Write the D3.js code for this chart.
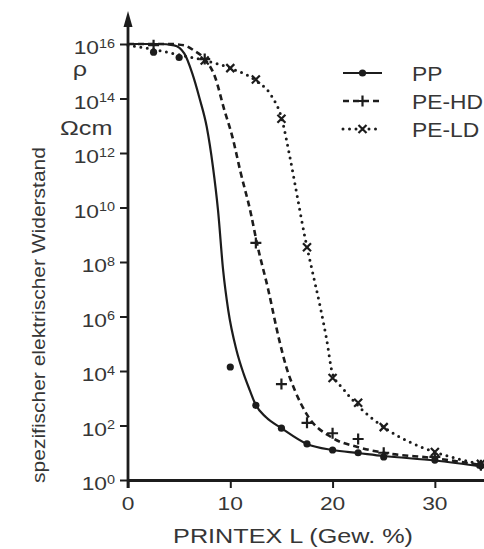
<!DOCTYPE html>
<html>
<head>
<meta charset="utf-8">
<script src="https://cdn.jsdelivr.net/npm/d3@7"></script>
<style>
  html, body { margin: 0; padding: 0; background: #fff; overflow: hidden; }
  svg { display: block; }
  text { font-family: "Liberation Sans", Arial, Helvetica, sans-serif; fill: #363636; }
</style>
</head>
<body>
<svg id="chart" width="484" height="549"></svg>
<script>
// Specific resistivity (Ohm*cm) of three polymers vs. PRINTEX L carbon black loading (wt %)
const xTicks = [0, 10, 20, 30];
const yTickExps = [0, 2, 4, 6, 8, 10, 12, 14, 16];
const seriesNames = ["PP", "PE-HD", "PE-LD"];

// measured points
const ppX   = [2.5, 5, 10, 12.5, 15, 17.5, 20, 22.5, 25, 30, 34.5];
const ppRho = [5e15, 3.2e15, 1.4e4, 5.5e2, 80, 21, 12.6, 10, 7, 5.4, 3.3];

const hdX   = [2.5, 7.5, 12.5, 15, 17.5, 20, 22.5, 25, 30, 34.5];
const hdRho = [9e15, 2.8e15, 5e8, 3.3e3, 125, 52, 32, 10, 7, 3.5];

const ldX   = [7.5, 10, 12.5, 15, 17.5, 20, 22.5, 25, 30, 34.5];
const ldRho = [2.5e15, 1.3e15, 5e14, 1.8e13, 3.5e8, 5.5e3, 6.8e2, 87, 10.7, 3.9];

// fitted curves
const ppFitX   = [0, 3, 4.5, 5.5, 6.3, 7, 7.7, 8.3, 8.8, 9.3, 9.8, 10.6, 11.3, 11.9, 12.5, 13.5, 15, 17.5, 20, 22.5, 25, 30, 35];
const ppFitRho = [1e16, 1e16, 8.9e15, 4.5e15, 8e14, 1e14, 9e12, 3.2e11, 8e9, 5e7, 1.7e6, 5.9e4, 8e3, 2e3, 5.6e2, 2e2, 80, 21, 12.6, 9.8, 7.6, 5.2, 3];

const hdFitX   = [0, 4, 5.5, 6.5, 7.5, 8.5, 9.4, 10.2, 11, 12, 12.6, 13.7, 14.8, 15.5, 16.3, 17.5, 20, 22.5, 25, 30, 35];
const hdFitRho = [1e16, 1e16, 8.9e15, 5.6e15, 2.8e15, 6.3e14, 4e13, 4e12, 2e11, 6.3e9, 5e8, 1e7, 1.3e5, 1.3e4, 2e3, 2.5e2, 35, 16, 10, 6.3, 3.3];

const ldFitX   = [0, 2.5, 5, 7.5, 10, 12.5, 14, 15, 15.8, 16.5, 17.3, 18, 18.8, 19.4, 20, 21, 22.3, 25, 27.5, 30, 35];
const ldFitRho = [8.9e15, 6.3e15, 4e15, 2.5e15, 1.3e15, 4.5e14, 1.3e14, 2e13, 8e11, 3.2e10, 8e8, 5e7, 2.2e6, 1.6e5, 8e3, 2.3e3, 6.3e2, 87, 25, 10.7, 3.5];

const svg = d3.select("#chart");
const ink = "#1c1c1c";
const sx = 1.2; // horizontally widened lettering

const x = d3.scaleLinear().domain([0, 35]).range([128, 486]);
const y = d3.scaleLog().domain([1, 1e16]).range([480, 44]);

// ---- x axis
const xAxis = d3.axisBottom(x).tickValues(xTicks).tickSize(8).tickSizeOuter(0).tickFormat("");
const gx = svg.append("g").attr("transform", "translate(0,480)").call(xAxis);
gx.select(".domain").attr("stroke", ink).attr("stroke-width", 2.8);
gx.selectAll(".tick line").attr("stroke", ink).attr("stroke-width", 2);

svg.append("g").selectAll("text").data(xTicks).join("text")
  .attr("transform", d => `translate(${x(d)},510) scale(${sx},1)`)
  .attr("text-anchor", "middle")
  .style("font-size", "19px")
  .text(d => d);

// ---- y axis
const yAxis = d3.axisLeft(y).tickValues(yTickExps.map(e => Math.pow(10, e))).tickSize(8).tickFormat("");
const gy = svg.append("g").attr("transform", "translate(128,0)").call(yAxis);
gy.select(".domain").remove();
gy.selectAll(".tick line").attr("stroke", ink).attr("stroke-width", 2);

svg.append("line")
  .attr("x1", 128).attr("x2", 128).attr("y1", 488).attr("y2", 24)
  .attr("stroke", ink).attr("stroke-width", 2.8);
svg.append("path")
  .attr("d", "M128,11 L123.5,27 L132.5,27 Z")
  .attr("fill", ink);

const yLab = svg.append("g").selectAll("text").data(yTickExps).join("text")
  .attr("transform", d => `translate(115,${y(Math.pow(10, d)) + 10}) scale(${sx},1)`)
  .attr("text-anchor", "end");
yLab.append("tspan").style("font-size", "19px").text("10");
yLab.append("tspan").style("font-size", "12px").attr("dy", -6.5).text(d => d);

// unit labels beside the axis
svg.append("text")
  .attr("transform", `translate(80,76) scale(${sx},1)`)
  .attr("text-anchor", "middle")
  .style("font-size", "21px")
  .text("ρ");
svg.append("text")
  .attr("transform", `translate(60,135) scale(${sx},1)`)
  .style("font-size", "21px")
  .text("Ωcm");

// axis titles
svg.append("text")
  .attr("transform", `translate(45,315) rotate(-90) scale(${sx},1)`)
  .attr("text-anchor", "middle")
  .style("font-size", "17.5px")
  .text("spezifischer elektrischer Widerstand");
svg.append("text")
  .attr("transform", `translate(293,543) scale(${sx},1)`)
  .attr("text-anchor", "middle")
  .style("font-size", "21px")
  .text("PRINTEX L (Gew. %)");

// ---- curves
const line = d3.line().x(d => x(d[0])).y(d => y(d[1])).curve(d3.curveMonotoneX);
const styles = {
  "PP":    { dash: null,  cap: "butt",  width: 2.2 },
  "PE-HD": { dash: "6,4", cap: "butt",  width: 2.6 },
  "PE-LD": { dash: "0,6.5", cap: "round", width: 3 }
};
const fits = [
  { name: "PP",    pts: d3.zip(ppFitX, ppFitRho) },
  { name: "PE-HD", pts: d3.zip(hdFitX, hdFitRho) },
  { name: "PE-LD", pts: d3.zip(ldFitX, ldFitRho) }
];
svg.append("g").selectAll("path").data(fits).join("path")
  .attr("d", d => line(d.pts))
  .attr("fill", "none")
  .attr("stroke", ink)
  .attr("stroke-width", d => styles[d.name].width)
  .attr("stroke-linecap", d => styles[d.name].cap)
  .attr("stroke-dasharray", d => styles[d.name].dash);

// ---- markers
function marker(g, name, cx, cy) {
  if (name === "PP") {
    g.append("circle").attr("cx", cx).attr("cy", cy).attr("r", 3.6).attr("fill", ink);
  } else if (name === "PE-HD") {
    g.append("path").attr("d", `M${cx - 5.5},${cy} H${cx + 5.5} M${cx},${cy - 5.5} V${cy + 5.5}`)
      .attr("stroke", ink).attr("stroke-width", 2.2).attr("fill", "none");
  } else {
    g.append("path").attr("d", `M${cx - 4},${cy - 4} L${cx + 4},${cy + 4} M${cx - 4},${cy + 4} L${cx + 4},${cy - 4}`)
      .attr("stroke", ink).attr("stroke-width", 2.2).attr("fill", "none");
  }
}
const markerSets = [
  { name: "PP",    xs: ppX, vs: ppRho },
  { name: "PE-HD", xs: hdX, vs: hdRho },
  { name: "PE-LD", xs: ldX, vs: ldRho }
];
const gm = svg.append("g");
markerSets.forEach(s => s.xs.forEach((xv, i) => marker(gm, s.name, x(xv), y(s.vs[i]))));

// ---- legend
const legendY = [73, 101, 129];
const lg = svg.append("g");
seriesNames.forEach((name, i) => {
  const ly = legendY[i];
  const st = styles[name];
  lg.append("line")
    .attr("x1", 343).attr("x2", 382).attr("y1", ly).attr("y2", ly)
    .attr("stroke", ink)
    .attr("stroke-width", st.width)
    .attr("stroke-linecap", st.cap)
    .attr("stroke-dasharray", st.dash);
  marker(lg, name, 362.5, ly);
  lg.append("text")
    .attr("transform", `translate(412,${ly + 7.5}) scale(1.17,1)`)
    .style("font-size", "19.5px")
    .text(name);
});
</script>
</body>
</html>
